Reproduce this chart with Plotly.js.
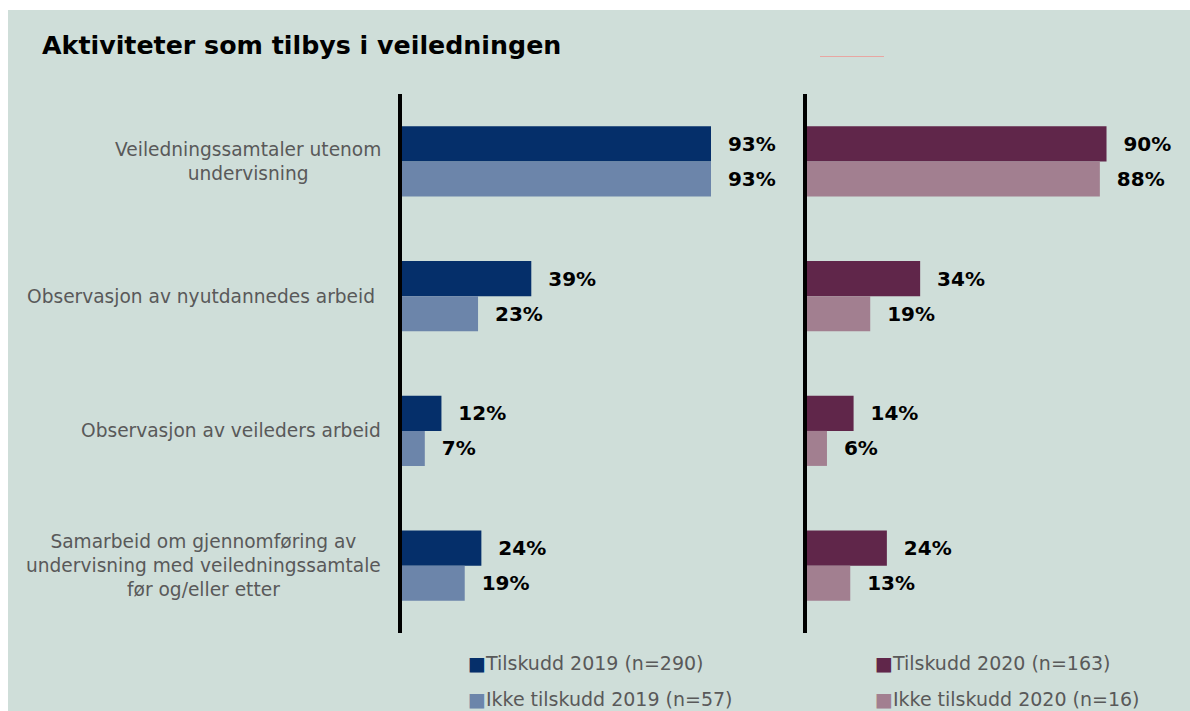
<!DOCTYPE html>
<html>
<head>
<meta charset="utf-8">
<script src="https://cdn.plot.ly/plotly-3.0.1.min.js"></script>
<style>html,body{margin:0;padding:0;background:#ffffff;}#chart{width:1190px;height:711px;}</style>
</head>
<body>
<div id="chart"></div>
<script>
// ---- data ----
const categories = [
  'Veiledningssamtaler utenom<br>undervisning',
  'Observasjon av nyutdannedes arbeid\u00a0',
  'Observasjon av veileders arbeid',
  'Samarbeid om gjennomføring av<br>undervisning med veiledningssamtale<br>før og/eller etter'
];
const tilskudd2019 = [93, 39, 12, 24];
const ikkeTilskudd2019 = [93, 23, 7, 19];
const tilskudd2020 = [90, 34, 14, 24];
const ikkeTilskudd2020 = [88, 19, 6, 13];
const seriesNames = ['Tilskudd 2019 (n=290)', 'Ikke tilskudd 2019 (n=57)', 'Tilskudd 2020 (n=163)', 'Ikke tilskudd 2020 (n=16)'];
const seriesColors = ['#052F6A', '#6C85AA', '#60264A', '#A27F90'];
const titleText = 'Aktiviteter som tilbys i veiledningen';

// ---- layout helpers ----
const W = 1190, H = 711;
const px = v => v / W;
const py = v => 1 - v / H;
const FONT = 'DejaVu Sans, Verdana, sans-serif';

function barTrace(vals, i, xa, ya) {
  return {
    type: 'bar', orientation: 'h',
    y: categories, x: vals,
    name: seriesNames[i],
    xaxis: xa, yaxis: ya,
    marker: {color: seriesColors[i], line: {width: 0}},
    texttemplate: '\u00a0\u00a0%{x}%',
    textposition: 'outside',
    constraintext: 'none',
    cliponaxis: false,
    textfont: {family: FONT, size: 20, color: '#000000', weight: 'bold'},
    showlegend: false,
    hoverinfo: 'skip'
  };
}

const data = [
  barTrace(tilskudd2019, 0, 'x', 'y'),
  barTrace(ikkeTilskudd2019, 1, 'x', 'y'),
  barTrace(tilskudd2020, 2, 'x2', 'y2'),
  barTrace(ikkeTilskudd2020, 3, 'x2', 'y2')
];

const yDomain = [py(633), py(94)];
const yCommon = {
  type: 'category', autorange: 'reversed', domain: yDomain,
  showline: true, linecolor: '#000000', linewidth: 4,
  showticklabels: false, ticks: '', showgrid: false, zeroline: false, fixedrange: true
};
const xCommon = {range: [0, 100], visible: false, showgrid: false, zeroline: false, fixedrange: true};

const annotations = categories.map(c => ({
  text: c, x: px(382.5), xref: 'paper', y: c, yref: 'y',
  xanchor: 'right', yanchor: 'middle', align: 'center', showarrow: false,
  font: {family: FONT, size: 18.6, color: '#595959'}
}));

// legend built as text entries
const legendPos = [[466, 663], [466, 699], [873, 663], [873, 699]];
seriesNames.forEach((n, i) => {
  annotations.push({
    text: '<span style="color:' + seriesColors[i] + '">\u25A0</span>' + n,
    x: px(legendPos[i][0]), xref: 'paper', y: py(legendPos[i][1]), yref: 'paper',
    xanchor: 'left', yanchor: 'middle', showarrow: false,
    font: {family: FONT, size: 19, color: '#595959'}
  });
});

const layout = {
  width: W, height: H, autosize: false,
  margin: {l: 0, r: 0, t: 0, b: 0, pad: 0},
  paper_bgcolor: '#ffffff', plot_bgcolor: 'rgba(0,0,0,0)',
  font: {family: FONT, color: '#595959'},
  title: {text: titleText, x: px(42), xanchor: 'left', xref: 'paper', y: py(45), yanchor: 'middle', yref: 'container',
          font: {family: FONT, size: 25.3, color: '#000000', weight: 'bold'}},
  barmode: 'group', bargap: 0.48, bargroupgap: 0,
  xaxis: Object.assign({}, xCommon, {domain: [px(401.5), px(734.3)], anchor: 'y'}),
  yaxis: Object.assign({}, yCommon, {anchor: 'x'}),
  xaxis2: Object.assign({}, xCommon, {domain: [px(807), px(1139.8)], anchor: 'y2'}),
  yaxis2: Object.assign({}, yCommon, {anchor: 'x2'}),
  showlegend: false,
  shapes: [
    {type: 'rect', xref: 'paper', yref: 'paper', x0: px(8), x1: 1, y0: 0, y1: py(10),
     fillcolor: '#CFDED9', line: {width: 0}, layer: 'below'},
    {type: 'line', xref: 'paper', yref: 'paper', x0: px(820), x1: px(884), y0: py(56.5), y1: py(56.5),
     line: {color: '#E8A6A2', width: 1}, layer: 'below'}
  ],
  annotations: annotations
};

Plotly.newPlot('chart', data, layout, {displayModeBar: false, staticPlot: true});
</script>
</body>
</html>
